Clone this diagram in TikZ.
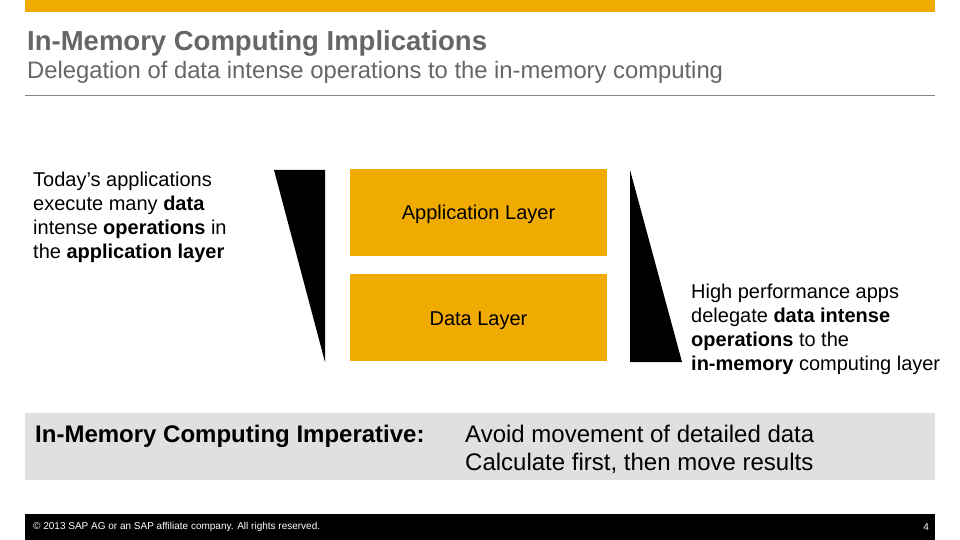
\documentclass[tikz,border=0pt]{standalone}
\usepackage{fontspec}
\setmainfont{Liberation Sans}
\usepackage{xcolor}
\usetikzlibrary{positioning, calc}

\definecolor{sapgold}{HTML}{F0AB00}
\definecolor{sapgray}{HTML}{E0E0E0}
\definecolor{titlegray}{HTML}{666666}

\begin{document}
\begin{tikzpicture}[x=1pt, y=-1pt,
				LayerNode/.style={rectangle, fill=sapgold, minimum width=257pt, minimum height=87pt, inner sep=0pt, text height=14.3pt, text depth=0pt, font=\fontsize{20}{24}\selectfont},
				NoteText/.style={anchor=base west, align=left, inner sep=0pt, font=\fontsize{20}{24}\selectfont},
				BandText/.style={anchor=base west, align=left, inner sep=0pt, font=\fontsize{24}{28}\selectfont}]

			\useasboundingbox (0,0) rectangle (960,540);

			\fill[sapgold] (25,0) rectangle (935,12);
			\node[anchor=base west, inner sep=0pt, text=titlegray, font=\fontsize{27.5}{32}\selectfont\bfseries] (Title) at (27,51) {In-Memory Computing Implications};
			\node[anchor=base west, inner sep=0pt, text=titlegray, font=\fontsize{23.8}{28}\selectfont] (Sub) at (27,79) {Delegation of data intense operations to the in-memory computing};
			\draw[titlegray!80, line width=1pt] (25,96) -- (935,96);

			\node[NoteText] (Today) at (33,258) {Today's applications\\execute many \textbf{data}\\intense \textbf{operations} in\\the \textbf{application layer}};

			\fill (274,170) -- (325,170) -- (325,362) -- cycle;

			\node[LayerNode] (App) at (478.5,212.5) {Application Layer};
			\node[LayerNode] (Data) [below=18pt of App] {Data Layer};

			\fill (630,170) -- (630,362) -- (682,362) -- cycle;

			\node[NoteText] (Perf) at (691,370) {High performance apps\\delegate \textbf{data intense}\\\textbf{operations} to the\\\textbf{in-memory} computing layer};

			\fill[sapgray] (25,413) rectangle (935,480);
			\node[BandText, font=\fontsize{24}{28}\selectfont\bfseries] (Imp) at (35,442) {In-Memory Computing Imperative:};
			\node[BandText] (Avoid) at (465,470) {Avoid movement of detailed data\\Calculate first, then move results};

			\fill (25,514) rectangle (935,540);
			\node[anchor=west, inner sep=0pt, text=white, font=\fontsize{10}{12}\selectfont] (Copy) at (33,527) {\textcopyright{} 2013 SAP AG or an SAP affiliate company. All rights reserved.};
			\node[anchor=east, inner sep=0pt, text=white, font=\fontsize{10}{12}\selectfont] (Page) at (929,527) {4};
		\end{tikzpicture}
\end{document}
